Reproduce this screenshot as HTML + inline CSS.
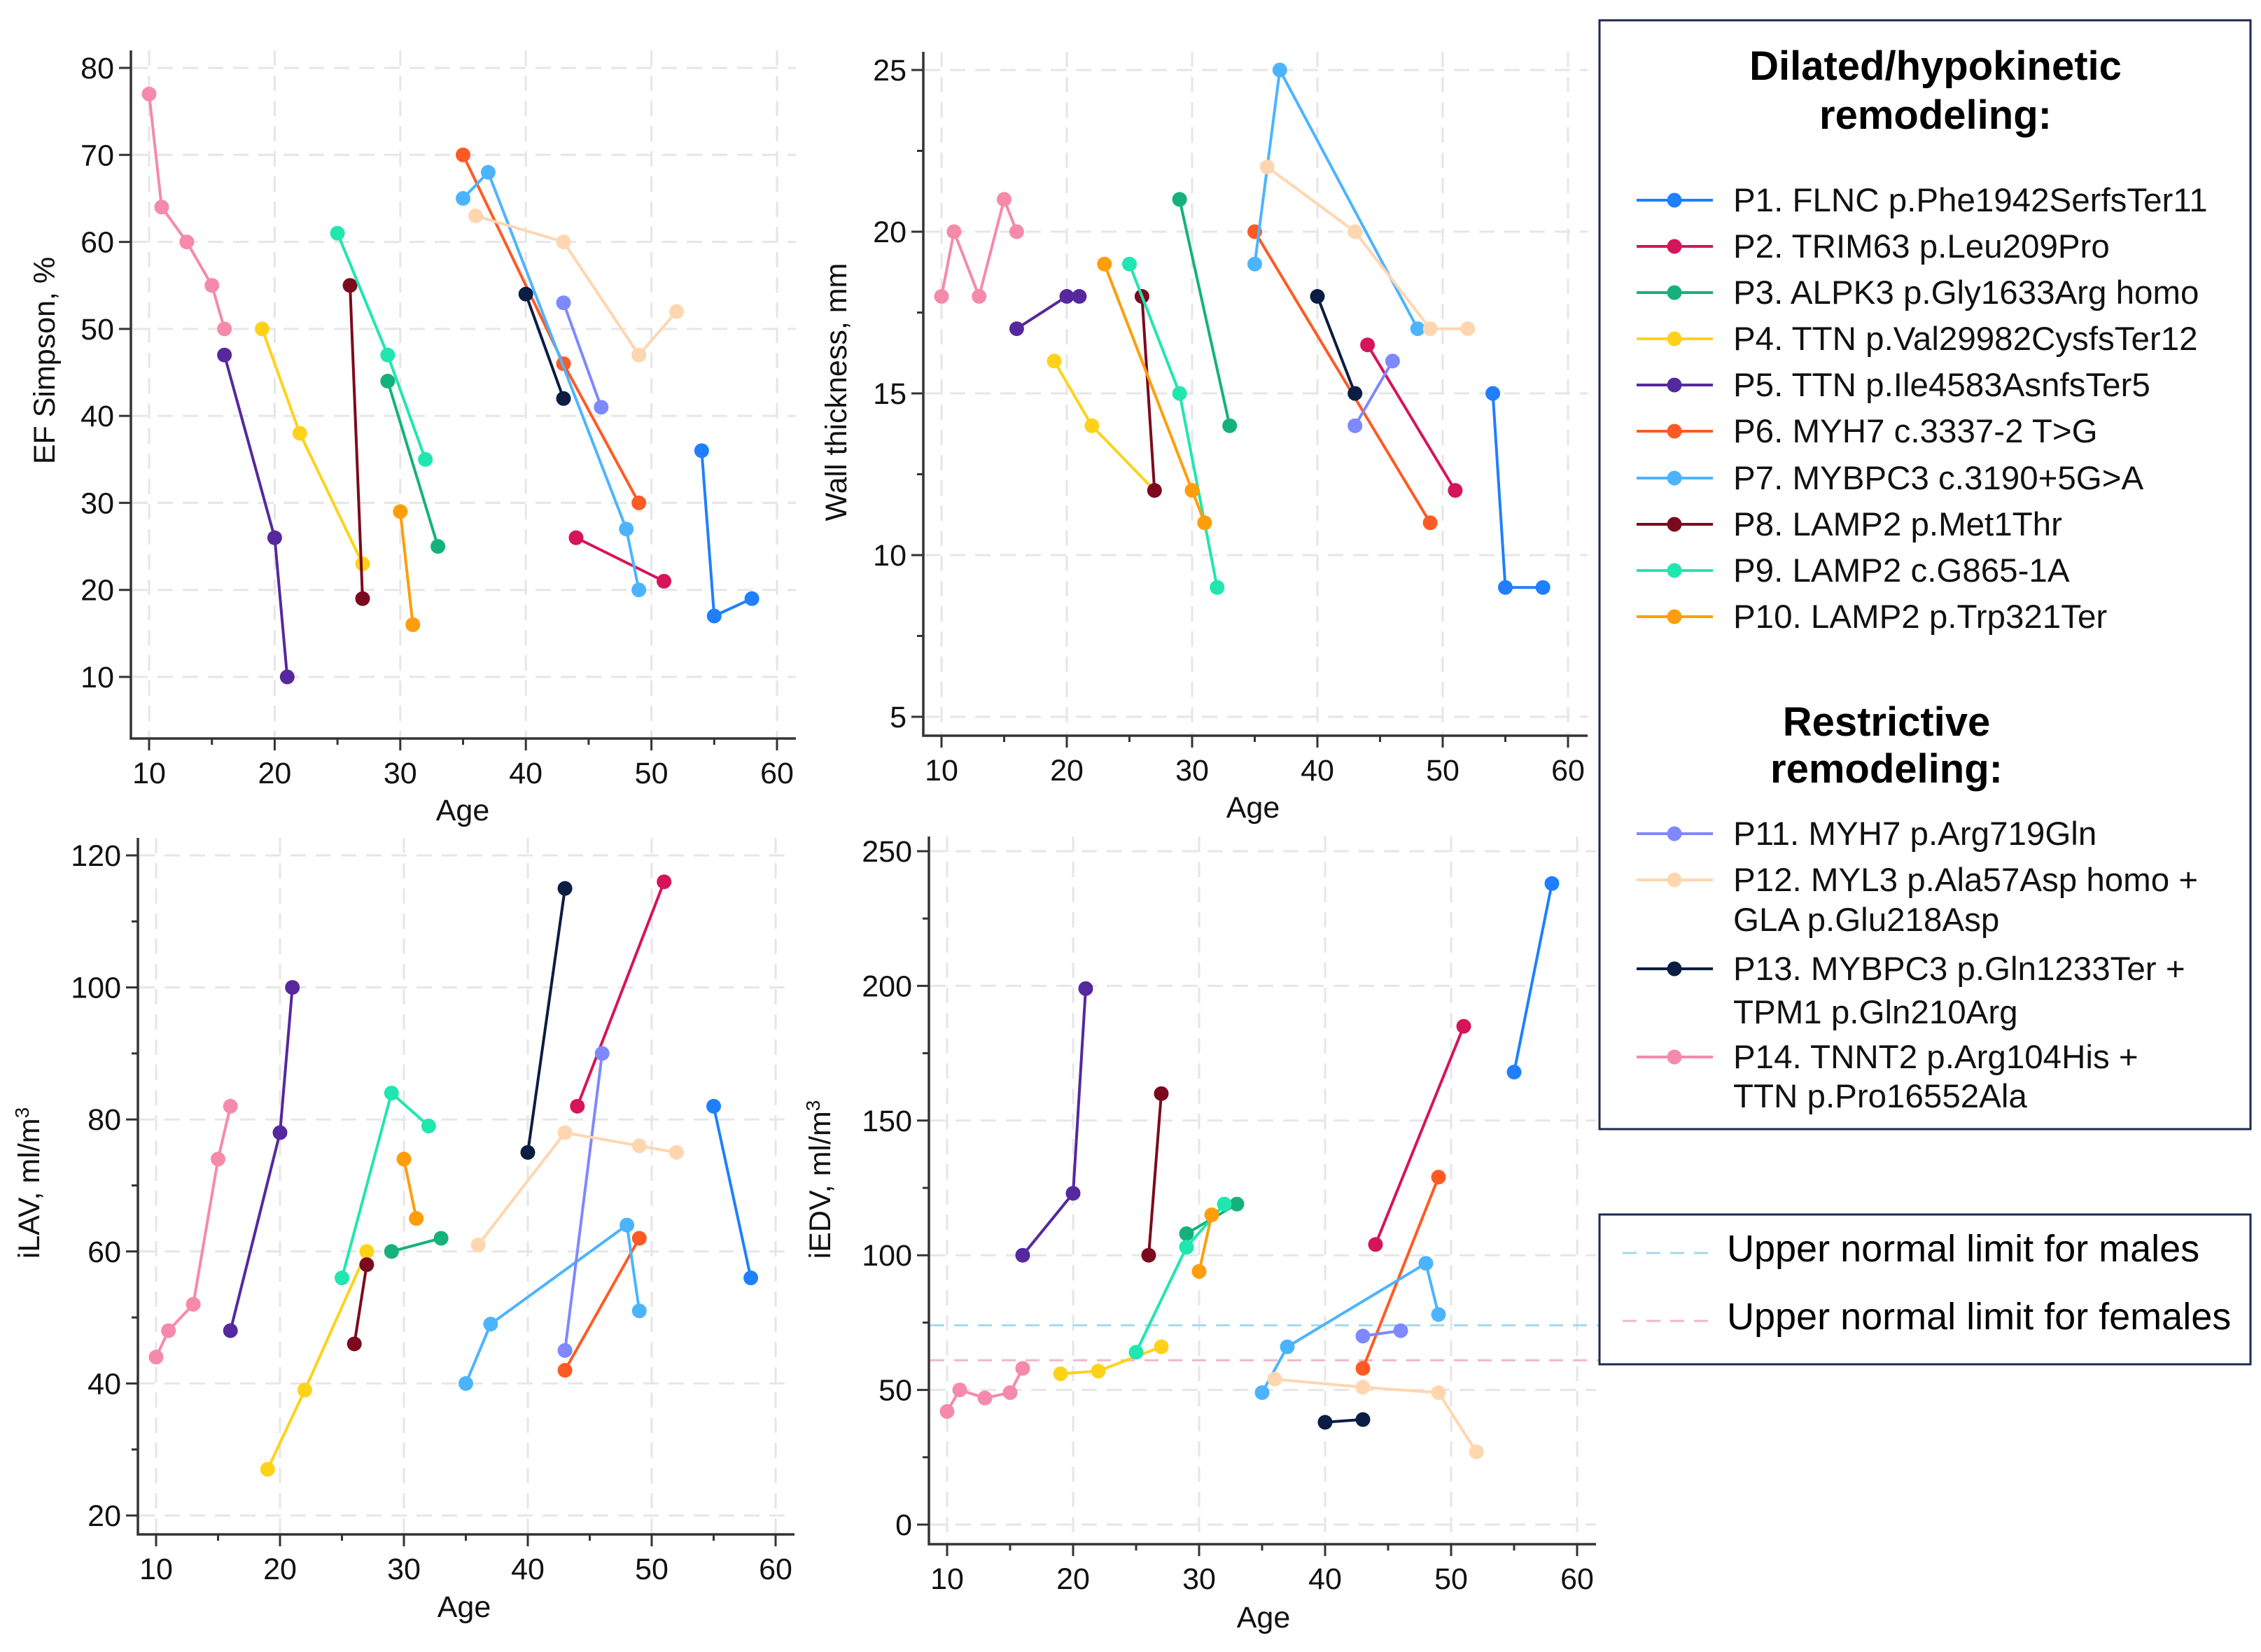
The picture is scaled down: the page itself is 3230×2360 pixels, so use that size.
<!DOCTYPE html>
<html><head><meta charset="utf-8"><style>
html,body{margin:0;padding:0;background:#fff;}
svg{display:block;font-family:"Liberation Sans",Arial,sans-serif;}
</style></head>
<body>
<svg id="fig" width="3230" height="2360" viewBox="0 0 3230 2360" xmlns="http://www.w3.org/2000/svg">
  <g id="panels"></g>
  <g id="legend">
    <rect x="2285" y="29" width="930" height="1584" fill="#fff" stroke="#1c2a4e" stroke-width="3"/>
    <text x="2765" y="114" font-size="58" font-weight="bold" text-anchor="middle">Dilated/hypokinetic</text>
    <text x="2765" y="184" font-size="58" font-weight="bold" text-anchor="middle">remodeling:</text>
    <text x="2695" y="1051" font-size="58" font-weight="bold" text-anchor="middle">Restrictive</text>
    <text x="2695" y="1118" font-size="58" font-weight="bold" text-anchor="middle">remodeling:</text>
    <g id="legend-entries"></g>
  </g>
  <g id="ref-legend">
    <rect x="2285" y="1735" width="930" height="214" fill="#fff" stroke="#1c2a4e" stroke-width="3"/>
    <line x1="2318" y1="1790" x2="2440" y2="1790" stroke="#a6d8e6" stroke-width="3" stroke-dasharray="20 14"/>
    <text x="2467" y="1802" font-size="54">Upper normal limit for males</text>
    <line x1="2318" y1="1887" x2="2440" y2="1887" stroke="#f2b6c8" stroke-width="3" stroke-dasharray="20 14"/>
    <text x="2467" y="1899" font-size="54">Upper normal limit for females</text>
  </g>
</svg>
<script>
const NS = "http://www.w3.org/2000/svg";
const patientColors = ["#1f7fff","#d6145a","#14b27a","#ffd21a","#56289e","#ff5a24","#4cb4ff","#7c0a1e","#20e6b0","#ff9d0a","#7e88ff","#ffd6b0","#0b1d42","#f58aaa"];
const patientLabels = [
  ["P1. FLNC p.Phe1942SerfsTer11"],["P2. TRIM63 p.Leu209Pro"],["P3. ALPK3 p.Gly1633Arg homo"],
  ["P4. TTN p.Val29982CysfsTer12"],["P5. TTN p.Ile4583AsnfsTer5"],["P6. MYH7 c.3337-2 T>G"],
  ["P7. MYBPC3 c.3190+5G>A"],["P8. LAMP2 p.Met1Thr"],["P9. LAMP2 c.G865-1A"],["P10. LAMP2 p.Trp321Ter"],
  ["P11. MYH7 p.Arg719Gln"],["P12. MYL3 p.Ala57Asp homo +","GLA p.Glu218Asp"],
  ["P13. MYBPC3 p.Gln1233Ter +","TPM1 p.Gln210Arg"],["P14. TNNT2 p.Arg104His +","TTN p.Pro16552Ala"]
];
// Panel A: EF Simpson
const efAges = [[54,55,58],[44,51],[29,33],[19,22,27],[16,20,21],[35,43,49],[35,37,48,49],[26,27],[25,29,32],[30,31],[43,46],[36,43,49,52],[40,43],[10,11,13,15,16]];
const efValues = [[36,17,19],[26,21],[44,25],[50,38,23],[47,26,10],[70,46,30],[65,68,27,20],[55,19],[61,47,35],[29,16],[53,41],[63,60,47,52],[54,42],[77,64,60,55,50]];
const efTicks = [10,20,30,40,50,60,70,80];
// Panel B: wall thickness
const wtAges = [[54,55,58],[44,51],[29,33],[19,22,27],[16,20,21],[35,49],[35,37,48],[26,27],[25,29,32],[23,30,31],[43,46],[36,43,49,52],[40,43],[10,11,13,15,16]];
const wtValues = [[15,9,9],[16.5,12],[21,14],[16,14,12],[17,18,18],[20,11],[19,25,17],[18,12],[19,15,9],[19,12,11],[14,16],[22,20,17,17],[18,15],[18,20,18,21,20]];
const wtTicks = [5,10,15,20,25];
// Panel C: iLAV
const lavAges = [[55,58],[44,51],[29,33],[19,22,27],[16,20,21],[43,49],[35,37,48,49],[26,27],[25,29,32],[30,31],[43,46],[36,43,49,52],[40,43],[10,11,13,15,16]];
const lavValues = [[82,56],[82,116],[60,62],[27,39,60],[48,78,100],[42,62],[40,49,64,51],[46,58],[56,84,79],[74,65],[45,90],[61,78,76,75],[75,115],[44,48,52,74,82]];
const lavTicks = [20,40,60,80,100,120];
// Panel D: iEDV
const edvAges = [[55,58],[44,51],[29,33],[19,22,27],[16,20,21],[43,49],[35,37,48,49],[26,27],[25,29,32],[30,31],[43,46],[36,43,49,52],[40,43],[10,11,13,15,16]];
const edvValues = [[168,238],[104,185],[108,119],[56,57,66],[100,123,199],[58,129],[49,66,97,78],[100,160],[64,103,119],[94,115],[70,72],[54,51,49,27],[38,39],[42,50,47,49,58]];
const edvTicks = [0,50,100,150,200,250];
const edvRefValues = [74,61];
const ageTicks = [10,20,30,40,50,60];

const panelsG = document.getElementById('panels');
function el(tag, attrs, parent){
  const e = document.createElementNS(NS, tag);
  for (const k in attrs) e.setAttribute(k, attrs[k]);
  (parent||panelsG).appendChild(e);
  return e;
}
function drawPanel(cfg, ages, values, yTicks){
  const g = el('g', {});
  
  
  const sx = a => cfg.x10 + (a - 10) * (cfg.x60 - cfg.x10) / 50;
  const sy = v => cfg.yA + (v - cfg.vA) * (cfg.yB - cfg.yA) / (cfg.vB - cfg.vA);
  ageTicks.forEach(t => {
    const l = el('line', {x1:sx(t), x2:sx(t), y1:cfg.top, y2:cfg.bottom-2, stroke:'#e6e6e6', 'stroke-width':3, 'stroke-dasharray':'22 14'}, g);
    
    
  });
  yTicks.forEach(t => {
    const l = el('line', {x1:cfg.left+2, x2:cfg.right, y1:sy(t), y2:sy(t), stroke:'#e6e6e6', 'stroke-width':3, 'stroke-dasharray':'22 14'}, g);
    
    
  });
  if (cfg.refs) {
    cfg.refs.forEach((v, i) => {
      const l = el('line', {x1:cfg.left+2, x2:cfg.refEnd, y1:sy(v), y2:sy(v), stroke: i===0 ? '#a6d8e6' : '#f2b6c8', 'stroke-width':3, 'stroke-dasharray':'20 14'}, g);
      
      
    });
  }
  const ax = el('path', {d:`M${cfg.left},${cfg.top} V${cfg.bottom} H${cfg.right}`, fill:'none', stroke:'#333', 'stroke-width':3.5}, g);
  
  
  ageTicks.forEach((t, i) => {
    el('line', {x1:sx(t), x2:sx(t), y1:cfg.bottom, y2:cfg.bottom+17, stroke:'#333', 'stroke-width':3}, g);
    if (i < ageTicks.length-1) el('line', {x1:sx(t+5), x2:sx(t+5), y1:cfg.bottom, y2:cfg.bottom+9, stroke:'#333', 'stroke-width':3}, g);
    const tx = el('text', {x:sx(t), y:cfg.bottom+64, 'font-size':43, 'text-anchor':'middle', fill:'#111'}, g);
    tx.textContent = t;
    
    
  });
  yTicks.forEach((t, i) => {
    el('line', {x1:cfg.left-17, x2:cfg.left, y1:sy(t), y2:sy(t), stroke:'#333', 'stroke-width':3}, g);
    if (cfg.minor && i < yTicks.length-1) {
      const m = (t + yTicks[i+1]) / 2;
      el('line', {x1:cfg.left-9, x2:cfg.left, y1:sy(m), y2:sy(m), stroke:'#333', 'stroke-width':3}, g);
    }
    const tx = el('text', {x:cfg.left-24, y:sy(t)+15, 'font-size':43, 'text-anchor':'end', fill:'#111'}, g);
    tx.textContent = t;
    
    
  });
  const xt = el('text', {x:cfg.xtX, y:cfg.xtY, 'font-size':43, 'text-anchor':'middle', fill:'#111'}, g);
  xt.textContent = 'Age';
  
  
  const yt = el('text', {x:0, y:0, 'font-size':43, 'text-anchor':'middle', fill:'#111', transform:`translate(${cfg.ytX},${cfg.ytY}) rotate(-90)`}, g);
  yt.innerHTML = cfg.ytitle;
  
  
  ages.forEach((arr, p) => {
    const sg = el('g', {}, g);
    
    
    const pts = arr.map((a, k) => sx(a) + ',' + sy(values[p][k])).join(' ');
    el('polyline', {points:pts, fill:'none', stroke:patientColors[p], 'stroke-width':4}, sg);
    arr.forEach((a, k) => {
      const c = el('circle', {cx:sx(a), cy:sy(values[p][k]), r:10.5, fill:patientColors[p]}, sg);
      
      
    });
  });
}
drawPanel({name:'ef-panel', x10:213, x60:1110, vA:10, yA:967, vB:80, yB:97, left:187, bottom:1055, top:72, right:1137,
  xtX:661, xtY:1172, ytX:78, ytY:515, ytitle:'EF Simpson, %', minor:false}, efAges, efValues, efTicks);
drawPanel({name:'wall-thickness-panel', x10:1345, x60:2240, vA:5, yA:1024, vB:25, yB:100, left:1319, bottom:1051, top:74, right:2268,
  xtX:1790, xtY:1168, ytX:1209, ytY:560, ytitle:'Wall thickness, mm', minor:true}, wtAges, wtValues, wtTicks);
drawPanel({name:'ilav-panel', x10:223, x60:1108, vA:20, yA:2165, vB:120, yB:1222, left:197, bottom:2192, top:1197, right:1135,
  xtX:663, xtY:2310, ytX:56, ytY:1690, ytitle:'iLAV, ml/m<tspan baseline-shift="super" font-size="28">3</tspan>', minor:true}, lavAges, lavValues, lavTicks);
drawPanel({name:'iedv-panel', x10:1353, x60:2253, vA:0, yA:2178, vB:250, yB:1216, left:1327, bottom:2206, top:1195, right:2280,
  xtX:1805, xtY:2325, ytX:1186, ytY:1685, ytitle:'iEDV, ml/m<tspan baseline-shift="super" font-size="28">3</tspan>', minor:true, refs:edvRefValues, refEnd:2318}, edvAges, edvValues, edvTicks);

const legendG = document.getElementById('legend-entries');
const rowY = [286,352,418,484,550,616,683,749,815,881,1191,1257,1384,1510];
const secondLineY = {11:1314, 12:1446, 13:1566};
patientLabels.forEach((lines, p) => {
  const g = el('g', {}, legendG);
  
  
  const y = rowY[p];
  el('line', {x1:2338, x2:2447, y1:y, y2:y, stroke:patientColors[p], 'stroke-width':4}, g);
  el('circle', {cx:2392, cy:y, r:10.5, fill:patientColors[p]}, g);
  lines.forEach((s, i) => {
    const ty = i === 0 ? y : secondLineY[p];
    const t = el('text', {x:2476, y:ty + 16, 'font-size':47.5, fill:'#111'}, g);
    t.textContent = s;
  });
});
</script>
</body></html>
